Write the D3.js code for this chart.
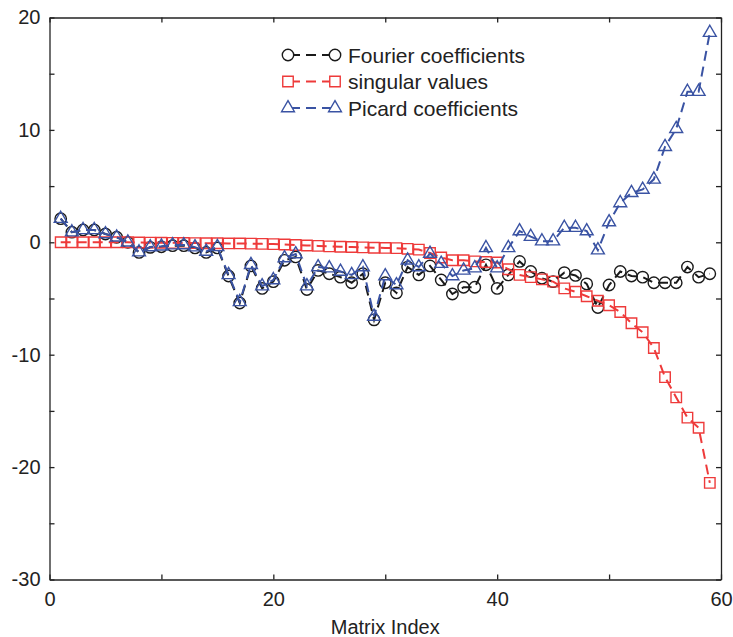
<!DOCTYPE html>
<html>
<head>
<meta charset="utf-8">
<script src="https://cdn.jsdelivr.net/npm/d3@7"></script>
<style>
body { margin: 0; background: #fff; }
text { font-family: "Liberation Sans", Arial, sans-serif; }
</style>
</head>
<body>
<div id="chart"></div>
<script>
// picard plot data, index 1..59

var indexes = d3.range(1, 60);

var fourier = [2.1, 0.9, 1.1, 1.1, 0.74, 0.45, 0.0, -0.9, -0.45, -0.4,
    -0.3, -0.3, -0.5, -0.9, -0.5, -3.0, -5.4, -2.1, -4.1, -3.5,
    -1.6, -1.3, -4.2, -2.5, -2.8, -3.1, -3.6, -2.8, -6.9, -3.6,
    -4.5, -2.2, -2.9, -2.1, -3.35, -4.6, -4.0, -4.0, -2.0, -4.1,
    -2.9, -1.7, -2.6, -3.2, -3.5, -2.7, -2.95, -3.7, -5.8, -3.8,
    -2.6, -3.0, -3.1, -3.6, -3.6, -3.6, -2.2, -3.1, -2.8];

var singular = [0.0, 0.0, 0.0, 0.0, 0.0, 0.0, 0.0, -0.02, -0.03, -0.04,
    -0.05, -0.06, -0.07, -0.08, -0.09, -0.1, -0.1, -0.12, -0.14, -0.16,
    -0.2, -0.24, -0.28, -0.32, -0.36, -0.4, -0.42, -0.45, -0.48, -0.5,
    -0.52, -0.58, -0.65, -0.95, -1.35, -1.6, -1.6, -1.7, -1.75, -1.8,
    -2.4, -2.9, -3.1, -3.3, -3.5, -4.1, -4.4, -4.8, -5.2, -5.6,
    -6.2, -7.2, -8.0, -9.4, -12.0, -13.8, -15.6, -16.5, -21.4];

var picard = [2.1, 0.9, 1.1, 1.1, 0.74, 0.45, 0.0, -0.88, -0.42, -0.36,
    -0.25, -0.24, -0.43, -0.82, -0.41, -2.9, -5.3, -2.0, -3.9, -3.35,
    -1.4, -1.05, -3.9, -2.2, -2.3, -2.6, -2.9, -2.2, -6.6, -3.0,
    -3.8, -1.6, -2.2, -1.0, -1.9, -3.0, -2.5, -2.3, -0.5, -2.3,
    -0.5, 1.0, 0.5, 0.1, 0.1, 1.3, 1.3, 1.0, -0.7, 1.8,
    3.5, 4.4, 4.7, 5.6, 8.5, 10.1, 13.4, 13.4, 18.65];

var seriesNames = ["Fourier coefficients", "singular values", "Picard coefficients"];
var xTicks = [0, 10, 20, 30, 40, 50, 60];
var yTicks = [-30, -25, -20, -15, -10, -5, 0, 5, 10, 15, 20];

var width = 733,
    height = 637;

var svg = d3.select("#chart")
    .append("svg")
    .attr("width", width)
    .attr("height", height);

var xScale = d3.scaleLinear().domain([0, 60]).range([49.5, 721]);
var yScale = d3.scaleLinear().domain([-30, 20]).range([579.5, 17.5]);

var series = [
    {name: seriesNames[0], values: fourier, color: "#1a1a1a", marker: "circle"},
    {name: seriesNames[1], values: singular, color: "#ee3a3a", marker: "square"},
    {name: seriesNames[2], values: picard, color: "#3a53a3", marker: "triangle"}
];

var symbols = {
    circle: d3.symbol().type(d3.symbolCircle).size(Math.PI * 5.7 * 5.7),
    square: d3.symbol().type(d3.symbolSquare).size(110),
    triangle: d3.symbol().type(d3.symbolTriangle).size(72)
};

// axes, ticks point inwards
var axisColor = "#222";

svg.append("g")
    .attr("transform", "translate(0," + yScale(-30) + ")")
    .attr("class", "xAxis")
    .call(d3.axisBottom(xScale).tickValues(xTicks).tickSizeInner(-5).tickSizeOuter(0).tickPadding(12)
        .tickFormat(function(d) { return d % 20 === 0 ? d : ""; }));

svg.append("g")
    .attr("transform", "translate(0," + yScale(20) + ")")
    .call(d3.axisTop(xScale).tickValues(xTicks).tickSizeInner(-5).tickSizeOuter(0).tickFormat(""));

svg.append("g")
    .attr("transform", "translate(" + xScale(0) + ",0)")
    .attr("class", "yAxis")
    .call(d3.axisLeft(yScale).tickValues(yTicks).tickSizeInner(-5).tickSizeOuter(0).tickPadding(9)
        .tickFormat(function(d) { return d % 10 === 0 ? d : ""; }));

svg.append("g")
    .attr("transform", "translate(" + xScale(60) + ",0)")
    .call(d3.axisRight(yScale).tickValues(yTicks).tickSizeInner(-5).tickSizeOuter(0).tickFormat(""));

svg.selectAll(".domain, .tick line")
    .attr("stroke", axisColor)
    .attr("stroke-width", 1.3);

svg.selectAll(".tick text")
    .attr("fill", "#222")
    .style("font-size", "20px");

svg.append("text")
    .attr("x", (xScale(0) + xScale(60)) / 2)
    .attr("y", 634)
    .attr("text-anchor", "middle")
    .attr("fill", "#222")
    .style("font-size", "20px")
    .text("Matrix Index");

// lines and markers
var line = d3.line()
    .x(function(d, i) { return xScale(indexes[i]); })
    .y(function(d) { return yScale(d); });

series.forEach(function(s) {
    var g = svg.append("g");

    g.append("path")
        .attr("d", line(s.values))
        .attr("stroke", s.color)
        .attr("stroke-width", 2)
        .attr("stroke-dasharray", "10,6")
        .attr("fill", "none");

    g.selectAll("path.mark")
        .data(s.values)
        .enter()
        .append("path")
        .attr("class", "mark")
        .attr("d", symbols[s.marker])
        .attr("transform", function(d, i) {
            return "translate(" + xScale(indexes[i]) + "," + yScale(d) + ")";
        })
        .attr("stroke", s.color)
        .attr("stroke-width", 1.4)
        .attr("fill", "none");
});

// legend
var legend = svg.append("g").attr("transform", "translate(288,55)");

series.forEach(function(s, i) {
    var row = legend.append("g").attr("transform", "translate(0," + i * 26.5 + ")");

    row.append("line")
        .attr("x1", 0).attr("x2", 47)
        .attr("y1", 0).attr("y2", 0)
        .attr("stroke", s.color)
        .attr("stroke-width", 2)
        .attr("stroke-dasharray", "10,6")
        .attr("stroke-dashoffset", -2);

    row.selectAll("path")
        .data([0, 47])
        .enter()
        .append("path")
        .attr("d", symbols[s.marker])
        .attr("transform", function(d) { return "translate(" + d + ",0)"; })
        .attr("stroke", s.color)
        .attr("stroke-width", 1.4)
        .attr("fill", "#fff");

    row.append("text")
        .attr("x", 60)
        .attr("y", 7.5)
        .attr("fill", "#222")
        .style("font-size", "21px")
        .text(s.name);
});
</script>
</body>
</html>
